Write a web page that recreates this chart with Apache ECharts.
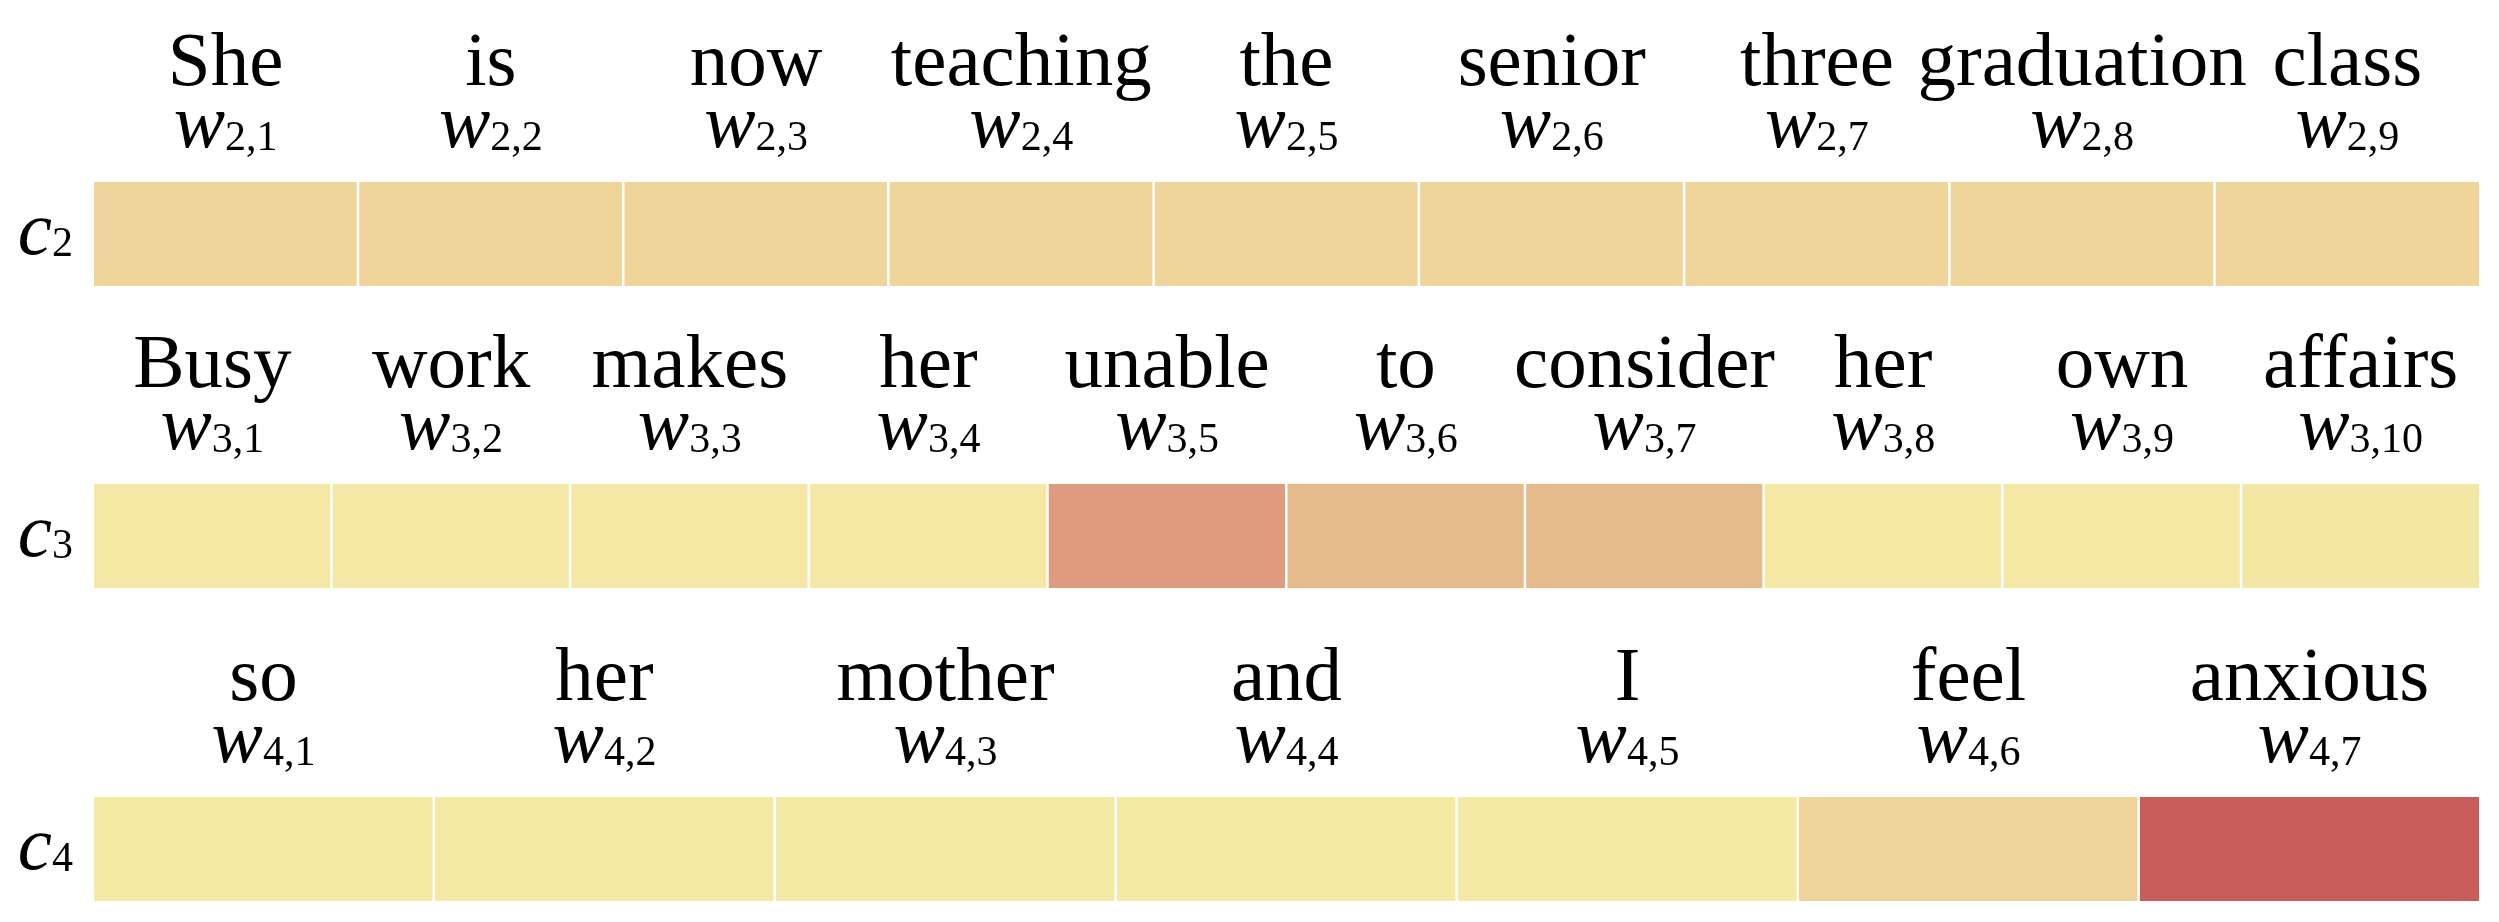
<!DOCTYPE html>
<html>
<head>
<meta charset="utf-8">
<script src="https://cdn.jsdelivr.net/npm/echarts@6/dist/echarts.min.js"></script>
<style>
  html, body { margin: 0; padding: 0; background: #fff; }
  #chart { width: 2499px; height: 922px; }
</style>
</head>
<body>
<div id="chart"></div>
<script>
// sentences, one per row
const rowLabels = ['2', '3', '4'];
const words2 = ['She', 'is', 'now', 'teaching', 'the', 'senior', 'three', 'graduation', 'class'];
const words3 = ['Busy', 'work', 'makes', 'her', 'unable', 'to', 'consider', 'her', 'own', 'affairs'];
const words4 = ['so', 'her', 'mother', 'and', 'I', 'feel', 'anxious'];

// attention weights
const weights2 = [0.25, 0.25, 0.25, 0.25, 0.25, 0.25, 0.25, 0.25, 0.25];
const weights3 = [0.02, 0.02, 0.02, 0.02, 0.75, 0.5, 0.5, 0.02, 0.02, 0.03];
const weights4 = [0, 0, 0, 0, 0, 0.25, 1];

const rows = [
  { name: rowLabels[0], words: words2, weights: weights2 },
  { name: rowLabels[1], words: words3, weights: weights3 },
  { name: rowLabels[2], words: words4, weights: weights4 }
];

const rowTops = [181, 483, 796];
const rowHeight = 106;
const serif = 'Liberation Serif';

const grids = [], xAxes = [], yAxes = [], series = [];

rows.forEach((row, i) => {
  grids.push({ left: 93, right: 19, top: rowTops[i], height: rowHeight });

  const subs = row.words.map((w, j) => row.name + ',' + (j + 1));

  // w_{i,j} labels
  xAxes.push({
    type: 'category', gridIndex: i, position: 'top', data: subs,
    axisLine: { show: false }, axisTick: { show: false }, splitLine: { show: false },
    axisLabel: {
      interval: 0, margin: 16,
      formatter: v => '{w|w}{s|' + v + '}',
      rich: {
        w: { fontFamily: serif, fontStyle: 'italic', fontSize: 77, lineHeight: 77, color: '#000' },
        s: { fontFamily: serif, fontSize: 42, lineHeight: 42, padding: [24, 0, 0, 0], color: '#000' }
      }
    }
  });
  // words
  xAxes.push({
    type: 'category', gridIndex: i, position: 'top', offset: 62, data: row.words,
    axisLine: { show: false }, axisTick: { show: false }, splitLine: { show: false },
    axisLabel: {
      interval: 0, margin: 16, color: '#000',
      fontFamily: serif, fontSize: 77, lineHeight: 77
    }
  });

  yAxes.push({
    type: 'category', gridIndex: i, data: [row.name],
    axisLine: { show: false }, axisTick: { show: false }, splitLine: { show: false },
    axisLabel: {
      margin: 20,
      formatter: v => '{c|c}{s|' + v + '}',
      rich: {
        c: { fontFamily: serif, fontStyle: 'italic', fontSize: 77, lineHeight: 77, color: '#000' },
        s: { fontFamily: serif, fontSize: 42, lineHeight: 42, padding: [22, 0, 0, 0], color: '#000' }
      }
    }
  });

  series.push({
    type: 'heatmap',
    xAxisIndex: i * 2, yAxisIndex: i,
    data: row.weights.map((v, j) => [j, 0, v]),
    itemStyle: { borderColor: '#fff', borderWidth: 2.5 },
    emphasis: { disabled: true }
  });
});

const chart = echarts.init(document.getElementById('chart'));
chart.setOption({
  backgroundColor: '#fff',
  animation: false,
  grid: grids,
  xAxis: xAxes,
  yAxis: yAxes,
  visualMap: {
    show: false, min: 0, max: 1, seriesIndex: [0, 1, 2],
    inRange: { color: ['#F5EAA5', '#EFD59A', '#E6BB8C', '#E09B7E', '#C95D5B'] }
  },
  series: series
});
</script>
</body>
</html>
